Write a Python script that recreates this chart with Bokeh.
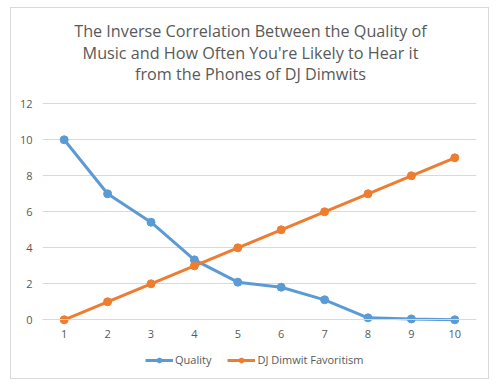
from bokeh.plotting import figure
from bokeh.models import Range1d, Legend, LegendItem, FixedTicker, Label
from bokeh.embed import file_html
from bokeh.resources import INLINE

categories = [1, 2, 3, 4, 5, 6, 7, 8, 9, 10]
quality = [10, 7, 5.42, 3.33, 2.09, 1.81, 1.11, 0.11, 0.05, 0.0]
favoritism = [0, 1, 2, 3, 4, 5, 6, 7, 8, 9]
y_ticks = [0, 2, 4, 6, 8, 10, 12]
title_lines = ["The Inverse Correlation Between the Quality of",
               "Music and How Often You're Likely to Hear it",
               "from the Phones of DJ Dimwits"]

FONT = "Open Sans"
GRAY = "#595959"
GRID = "#d9d9d9"
BLUE = "#5b9bd5"
ORANGE = "#ed7d31"

# the frame spans the chart's full height; the value axis covers 0..12 in the
# middle (18 px per unit), leaving room for title above and legend below
PX_PER_UNIT = 18.0
TOP_SPACE = 95.3
BOTTOM_SPACE = 60.7

p = figure(width=479, height=372, output_backend="svg", toolbar_location=None,
           title_location=None,
           x_range=Range1d(0.5, 10.5),
           y_range=Range1d(-BOTTOM_SPACE / PX_PER_UNIT, 12 + TOP_SPACE / PX_PER_UNIT),
           min_border_left=31, min_border_right=14, min_border_top=0, min_border_bottom=0)
p.outline_line_color = None
p.styles = {"border": "1px solid #d9d9d9", "margin-left": "10px", "margin-top": "7px"}

p.xaxis.ticker = FixedTicker(ticks=categories)
p.yaxis.ticker = FixedTicker(ticks=y_ticks)
for ax in (p.xaxis, p.yaxis):
    ax.major_label_text_font = FONT
    ax.major_label_text_font_size = "11px"
    ax.major_label_text_color = GRAY
    ax.major_tick_line_color = None
    ax.minor_tick_line_color = None
    ax.major_tick_out = 0
    ax.major_tick_in = 0
p.xaxis.fixed_location = 0
p.yaxis.axis_line_color = None
p.xaxis.axis_line_color = GRID
p.yaxis.major_label_standoff = 10
p.xaxis.major_label_standoff = 10
p.xgrid.grid_line_color = None
p.ygrid.grid_line_color = GRID
p.ygrid.ticker = FixedTicker(ticks=y_ticks)

l1 = p.line(categories, quality, line_color=BLUE, line_width=3)
s1 = p.scatter(categories, quality, size=8, fill_color=BLUE, line_color=BLUE)
l2 = p.line(categories, favoritism, line_color=ORANGE, line_width=3)
s2 = p.scatter(categories, favoritism, size=8, fill_color=ORANGE, line_color=ORANGE)

for i, t in enumerate(title_lines):
    p.add_layout(Label(x=208, y=349.5 - 21.5 * i, x_units="screen", y_units="screen",
                       text=t, text_align="center", text_baseline="alphabetic",
                       text_font=FONT, text_font_size="16.2px", text_color=GRAY))

legend = Legend(items=[LegendItem(label="Quality", renderers=[l1, s1]),
                       LegendItem(label="DJ Dimwit Favoritism", renderers=[l2, s2])],
                orientation="horizontal", location=(103, 13),
                label_text_font=FONT, label_text_font_size="11px", label_text_color=GRAY,
                border_line_color=None, background_fill_alpha=0,
                glyph_width=28, glyph_height=12, label_height=12,
                label_standoff=2, spacing=16, margin=0, padding=0)
p.add_layout(legend, "center")

open("out.html", "w").write(file_html(p, INLINE))
